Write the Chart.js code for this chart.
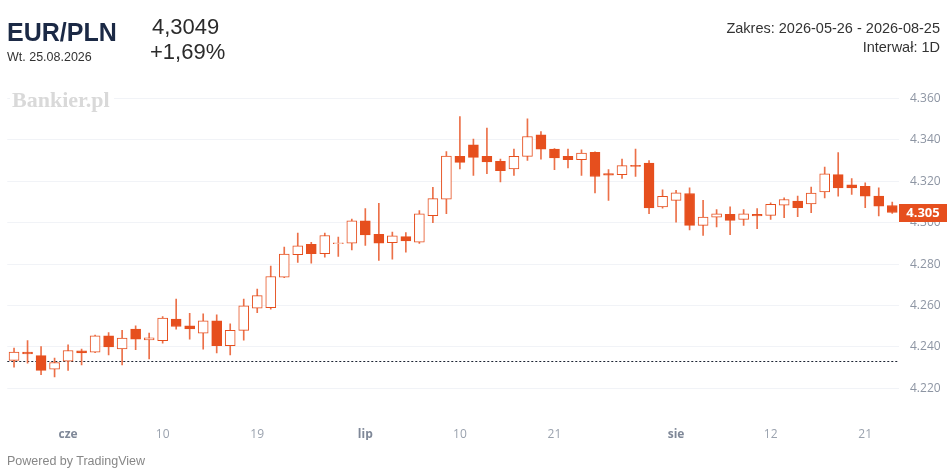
<!DOCTYPE html>
<html>
<head>
<meta charset="utf-8">
<script src="https://cdn.jsdelivr.net/npm/chart.js@4.4.1/dist/chart.umd.min.js"></script>
<style>
html, body { margin: 0; padding: 0; background: #fff; }
#wrap { position: relative; width: 948px; height: 468px; overflow: hidden; font-family: "Liberation Sans", Arial, sans-serif; }
#c { position: absolute; left: 0; top: 0; }
.t { position: absolute; white-space: nowrap; line-height: 1; }
</style>
</head>
<body>
<div id="wrap">
  <canvas id="c" width="948" height="468"></canvas>
  <div class="t" style="left:7px;top:20px;font-size:25px;font-weight:bold;color:#1b2945;">EUR/PLN</div>
  <div class="t" style="left:7px;top:51px;font-size:12.5px;color:#333;">Wt. 25.08.2026</div>
  <div class="t" style="left:152px;top:16px;font-size:22px;color:#2b2b2b;">4,3049</div>
  <div class="t" style="left:150px;top:41px;font-size:22px;color:#2b2b2b;">+1,69%</div>
  <div class="t" style="right:8px;top:21px;font-size:14.5px;color:#333;">Zakres: 2026-05-26 - 2026-08-25</div>
  <div class="t" style="right:8px;top:40px;font-size:14.5px;color:#333;">Interwał: 1D</div>
  <div class="t" style="left:10px;top:89px;padding:0 4px 0 2px;background:#fff;font-family:'Liberation Serif',serif;font-size:22px;font-weight:bold;color:#d9d9d9;">Bankier.pl</div>
  <div class="t" style="left:7px;top:455px;font-size:12.5px;color:#878787;">Powered by TradingView</div>
</div>
<script>
// sessions 2026-05-26 .. 2026-08-25 (MM-DD)
const dates = [
  '05-26','05-27','05-28','05-29',
  '06-01','06-02','06-03','06-04','06-05','06-08','06-09','06-10','06-11','06-12',
  '06-15','06-16','06-17','06-18','06-19','06-22','06-23','06-24','06-25','06-26','06-29','06-30',
  '07-01','07-02','07-03','07-06','07-07','07-08','07-09','07-10','07-13','07-14','07-15','07-16','07-17',
  '07-20','07-21','07-22','07-23','07-24','07-27','07-28','07-29','07-30','07-31',
  '08-03','08-04','08-05','08-06','08-07','08-10','08-11','08-12','08-13','08-14',
  '08-17','08-18','08-19','08-20','08-21','08-24','08-25'
];

const opens = [
  4.2335, 4.2375, 4.2358, 4.2293, 4.2332, 4.2382, 4.2375, 4.2454, 4.2391, 4.2486,
  4.2434, 4.2430, 4.2535, 4.2502, 4.2467, 4.2526, 4.2406, 4.2480, 4.2587, 4.2590,
  4.2737, 4.2846, 4.2896, 4.2850, 4.2899, 4.2901, 4.3009, 4.2944, 4.2904, 4.2933,
  4.2906, 4.3034, 4.3113, 4.3320, 4.3376, 4.3320, 4.3296, 4.3259, 4.3320, 4.3424,
  4.3355, 4.3320, 4.3304, 4.3339, 4.3237, 4.3232, 4.3277, 4.3288, 4.3076, 4.3108,
  4.3141, 4.2987, 4.3027, 4.3040, 4.3016, 4.3040, 4.3035, 4.3085, 4.3104, 4.3091,
  4.3148, 4.3232, 4.3183, 4.3176, 4.3128, 4.3083
];
const highs = [
  4.2395, 4.2431, 4.2402, 4.2347, 4.2411, 4.2390, 4.2457, 4.2470, 4.2480, 4.2502,
  4.2467, 4.2547, 4.2631, 4.2563, 4.2560, 4.2555, 4.2512, 4.2631, 4.2679, 4.2791,
  4.2882, 4.2950, 4.2905, 4.2950, 4.2930, 4.3017, 4.3068, 4.3093, 4.2954, 4.2952,
  4.3058, 4.3171, 4.3343, 4.3512, 4.3403, 4.3456, 4.3307, 4.3355, 4.3501, 4.3440,
  4.3358, 4.3355, 4.3352, 4.3342, 4.3256, 4.3307, 4.3355, 4.3300, 4.3159, 4.3156,
  4.3168, 4.3108, 4.3063, 4.3076, 4.3063, 4.3068, 4.3096, 4.3120, 4.3128, 4.3172,
  4.3268, 4.3338, 4.3213, 4.3192, 4.3168, 4.3099
];
const lows = [
  4.2303, 4.2322, 4.2266, 4.2255, 4.2287, 4.2314, 4.2372, 4.2362, 4.2314, 4.2387,
  4.2342, 4.2419, 4.2486, 4.2438, 4.2390, 4.2371, 4.2362, 4.2433, 4.2566, 4.2582,
  4.2735, 4.2808, 4.2805, 4.2834, 4.2837, 4.2869, 4.2890, 4.2818, 4.2824, 4.2858,
  4.2900, 4.3000, 4.3043, 4.3259, 4.3228, 4.3236, 4.3197, 4.3228, 4.3300, 4.3307,
  4.3256, 4.3264, 4.3228, 4.3144, 4.3108, 4.3213, 4.3223, 4.3044, 4.3070, 4.3002,
  4.2965, 4.2939, 4.2979, 4.2942, 4.2987, 4.2971, 4.3016, 4.3024, 4.3029, 4.3048,
  4.3120, 4.3128, 4.3136, 4.3072, 4.3032, 4.3045
];
const closes = [
  4.2375, 4.2366, 4.2287, 4.2325, 4.2383, 4.2371, 4.2454, 4.2400, 4.2443, 4.2438,
  4.2444, 4.2539, 4.2499, 4.2487, 4.2526, 4.2406, 4.2480, 4.2599, 4.2648, 4.2740,
  4.2848, 4.2888, 4.2850, 4.2938, 4.2903, 4.3009, 4.2941, 4.2901, 4.2936, 4.2912,
  4.3043, 4.3116, 4.3322, 4.3291, 4.3315, 4.3293, 4.3251, 4.3320, 4.3416, 4.3355,
  4.3312, 4.3304, 4.3336, 4.3223, 4.3229, 4.3275, 4.3272, 4.3071, 4.3127, 4.3144,
  4.2987, 4.3027, 4.3043, 4.3011, 4.3043, 4.3032, 4.3088, 4.3112, 4.3072, 4.3143,
  4.3236, 4.3168, 4.3168, 4.3128, 4.3080, 4.3049
];

const prevClose = 4.2333;
const yTicks = [4.22, 4.24, 4.26, 4.28, 4.30, 4.32, 4.34, 4.36];
const xTickDates = ['06-01', '06-10', '06-19', '07-01', '07-10', '07-21', '08-03', '08-12', '08-21'];
const xTickTexts = ['cze', '10', '19', 'lip', '10', '21', 'sie', '12', '21'];
const monthTicks = ['cze', 'lip', 'sie'];

const orange = '#e64f1e';
const wickColor = '#ec7048';

function tickText(i) {
  const k = xTickDates.indexOf(dates[i]);
  return k >= 0 ? xTickTexts[k] : '';
}

// dotted previous-close line + last price tag
const overlays = {
  id: 'overlays',
  beforeDatasetsDraw(chart) {
    const { ctx, chartArea, scales } = chart;
    const y = Math.round(scales.y.getPixelForValue(prevClose)) + 0.5;
    ctx.save();
    ctx.strokeStyle = '#1d2433';
    ctx.lineWidth = 1;
    ctx.setLineDash([2, 2]);
    ctx.beginPath();
    ctx.moveTo(chartArea.left, y);
    ctx.lineTo(chartArea.right, y);
    ctx.stroke();
    ctx.restore();
  },
  afterDraw(chart) {
    const { ctx, chartArea, scales } = chart;
    const last = closes[closes.length - 1];
    const y = scales.y.getPixelForValue(last);
    ctx.save();
    ctx.fillStyle = orange;
    ctx.fillRect(chartArea.right, Math.round(y - 9), 48, 18);
    ctx.fillStyle = '#fff';
    ctx.font = 'bold 13px "Open Sans", sans-serif';
    ctx.textAlign = 'center';
    ctx.textBaseline = 'middle';
    ctx.fillText(last.toFixed(3), chartArea.right + 24, y + 0.5);
    ctx.restore();
  }
};

new Chart(document.getElementById('c').getContext('2d'), {
  type: 'bar',
  data: {
    labels: dates,
    datasets: [
      {
        label: 'wick',
        data: lows.map((l, i) => [l, highs[i]]),
        backgroundColor: wickColor,
        borderWidth: 0,
        barThickness: 1,
        grouped: false,
        order: 2
      },
      {
        label: 'body',
        data: opens.map((o, i) => [o, closes[i]]),
        backgroundColor: closes.map((c, i) => c >= opens[i] ? '#ffffff' : orange),
        borderColor: orange,
        borderWidth: 1,
        borderSkipped: false,
        barThickness: 10,
        grouped: false,
        order: 1
      }
    ]
  },
  options: {
    responsive: false,
    animation: false,
    events: [],
    layout: { padding: { top: 88, bottom: 28, left: 5, right: 0 } },
    plugins: { legend: { display: false }, tooltip: { enabled: false } },
    scales: {
      x: {
        offset: true,
        grid: { display: false },
        border: { display: false },
        afterFit: s => { s.height = 35; },
        ticks: {
          autoSkip: false,
          maxRotation: 0,
          padding: 14,
          callback: (v, i) => tickText(i),
          color: ctx => monthTicks.includes(tickText(ctx.index)) ? '#7f8898' : '#9aa2ae',
          font: ctx => ({
            family: '"Open Sans", sans-serif',
            size: 12,
            weight: monthTicks.includes(tickText(ctx.index)) ? 'bold' : 'normal'
          })
        }
      },
      y: {
        position: 'right',
        min: 4.212,
        max: 4.365,
        afterFit: s => { s.width = 49; },
        afterBuildTicks: s => { s.ticks = yTicks.map(v => ({ value: v })); },
        grid: { color: '#f1f3f7', drawTicks: false },
        border: { display: false },
        ticks: {
          padding: 11,
          color: '#8d95a3',
          font: { family: '"Open Sans", sans-serif', size: 12 },
          callback: v => v.toFixed(3)
        }
      }
    }
  },
  plugins: [overlays]
});
</script>
</body>
</html>
